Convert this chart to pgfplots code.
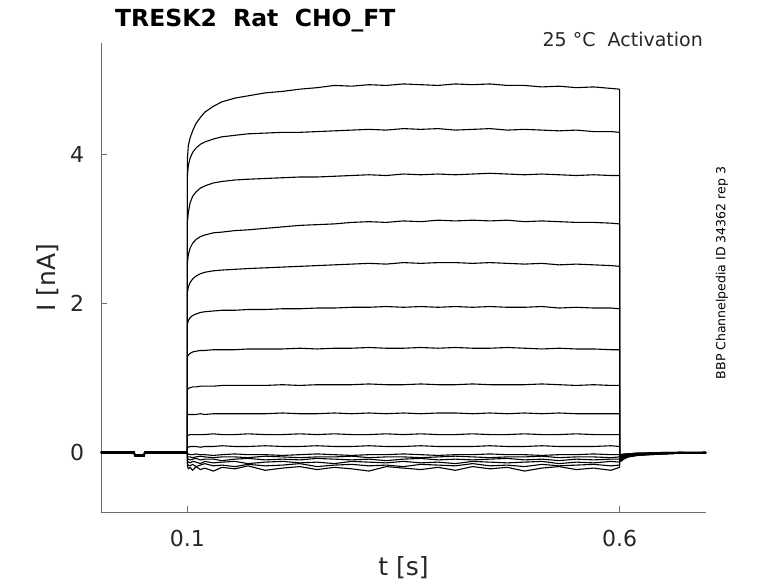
\documentclass[border=0pt]{standalone}
\usepackage{fontspec}
\setmainfont{DejaVu Sans}
\usepackage{pgfplots}
\usepackage{pgfplotstable}
\pgfplotsset{compat=1.18}
\definecolor{axgray}{gray}{0.42}
\definecolor{labgray}{gray}{0.15}
\pgfplotstableread{
t a b c d e f g h i j k l m n o p q
0 0.00 -0.01 0.01 0.00 -0.01 0.00 0.01 0.00 -0.01 0.00 0.01 0.00 -0.01 0.00 0.01 0.00 -0.01
0.02 0.00 -0.01 0.01 0.00 -0.01 0.00 0.01 0.00 -0.01 0.00 0.01 0.00 -0.01 0.00 0.01 0.00 -0.01
0.0385 0.00 -0.01 0.01 0.00 -0.01 0.00 0.01 0.00 -0.01 0.00 0.01 0.00 -0.01 0.00 0.01 0.00 -0.01
0.039 -0.04 -0.05 -0.03 -0.04 -0.05 -0.04 -0.03 -0.04 -0.05 -0.04 -0.03 -0.04 -0.05 -0.04 -0.03 -0.04 -0.05
0.050 -0.04 -0.05 -0.03 -0.04 -0.05 -0.04 -0.03 -0.04 -0.05 -0.04 -0.03 -0.04 -0.05 -0.04 -0.03 -0.04 -0.05
0.0505 0.00 -0.01 0.01 0.00 -0.01 0.00 0.01 0.00 -0.01 0.00 0.01 0.00 -0.01 0.00 0.01 0.00 -0.01
0.07 0.00 -0.01 0.01 0.00 -0.01 0.00 0.01 0.00 -0.01 0.00 0.01 0.00 -0.01 0.00 0.01 0.00 -0.01
0.1 0.00 -0.01 0.01 0.00 -0.01 0.00 0.01 0.00 -0.01 0.00 0.01 0.00 -0.01 0.00 0.01 0.00 -0.01
0.1 3.95 3.72 3.10 2.55 2.15 1.72 1.28 0.84 0.50 0.23 0.07 -0.03 -0.05 -0.08 -0.11 -0.15 -0.18
0.101 4.12 3.85 3.22 2.65 2.22 1.77 1.31 0.86 0.51 0.23 0.07 -0.02 -0.06 -0.09 -0.13 -0.17 -0.22
0.103 4.22 3.95 3.35 2.74 2.28 1.81 1.33 0.87 0.51 0.24 0.08 -0.03 -0.06 -0.10 -0.14 -0.18 -0.20
0.106 4.32 4.03 3.44 2.81 2.33 1.84 1.35 0.88 0.51 0.24 0.08 -0.03 -0.07 -0.09 -0.12 -0.16 -0.24
0.11 4.42 4.09 3.50 2.86 2.37 1.86 1.36 0.88 0.51 0.24 0.08 -0.02 -0.06 -0.08 -0.13 -0.19 -0.19
0.115 4.50 4.14 3.55 2.90 2.40 1.88 1.37 0.89 0.52 0.24 0.07 -0.03 -0.05 -0.10 -0.15 -0.17 -0.23
0.12 4.57 4.17 3.58 2.92 2.42 1.89 1.37 0.89 0.51 0.24 0.08 -0.03 -0.06 -0.09 -0.12 -0.15 -0.21
0.13 4.65 4.21 3.62 2.95 2.44 1.90 1.38 0.89 0.52 0.25 0.08 -0.04 -0.07 -0.09 -0.14 -0.18 -0.25
0.14 4.71 4.24 3.64 2.96 2.45 1.91 1.38 0.90 0.52 0.24 0.09 -0.03 -0.06 -0.11 -0.13 -0.17 -0.20
0.155 4.76 4.26 3.66 2.98 2.46 1.91 1.38 0.90 0.52 0.24 0.08 -0.02 -0.06 -0.09 -0.12 -0.19 -0.22
0.17 4.79 4.28 3.67 2.99 2.47 1.92 1.39 0.90 0.52 0.25 0.08 -0.03 -0.07 -0.08 -0.15 -0.16 -0.18
0.19 4.83 4.29 3.68 3.01 2.48 1.92 1.39 0.90 0.52 0.24 0.09 -0.03 -0.05 -0.10 -0.13 -0.18 -0.24
0.21 4.85 4.30 3.69 3.03 2.49 1.93 1.39 0.91 0.53 0.24 0.08 -0.04 -0.06 -0.09 -0.12 -0.17 -0.21
0.23 4.88 4.30 3.70 3.05 2.50 1.93 1.40 0.90 0.52 0.25 0.08 -0.03 -0.07 -0.10 -0.14 -0.15 -0.19
0.25 4.90 4.31 3.70 3.06 2.51 1.94 1.39 0.91 0.52 0.24 0.09 -0.02 -0.06 -0.08 -0.13 -0.19 -0.23
0.27 4.93 4.32 3.71 3.07 2.52 1.94 1.40 0.91 0.53 0.25 0.08 -0.03 -0.06 -0.09 -0.15 -0.17 -0.20
0.29 4.92 4.33 3.72 3.09 2.53 1.95 1.40 0.91 0.52 0.24 0.08 -0.04 -0.05 -0.10 -0.12 -0.16 -0.22
0.31 4.94 4.34 3.73 3.10 2.54 1.95 1.41 0.92 0.53 0.24 0.09 -0.03 -0.07 -0.09 -0.13 -0.18 -0.25
0.33 4.93 4.33 3.72 3.09 2.53 1.96 1.40 0.91 0.52 0.25 0.08 -0.03 -0.06 -0.11 -0.14 -0.17 -0.19
0.35 4.95 4.35 3.74 3.11 2.55 1.95 1.40 0.91 0.53 0.24 0.08 -0.02 -0.06 -0.09 -0.12 -0.19 -0.21
0.37 4.94 4.34 3.73 3.10 2.54 1.96 1.41 0.92 0.52 0.25 0.09 -0.03 -0.07 -0.08 -0.14 -0.16 -0.23
0.39 4.93 4.35 3.74 3.12 2.55 1.95 1.40 0.91 0.53 0.24 0.08 -0.04 -0.06 -0.10 -0.13 -0.17 -0.20
0.41 4.95 4.33 3.73 3.11 2.55 1.96 1.41 0.91 0.53 0.24 0.08 -0.03 -0.05 -0.09 -0.15 -0.18 -0.24
0.43 4.94 4.34 3.74 3.12 2.54 1.95 1.40 0.92 0.52 0.25 0.08 -0.03 -0.06 -0.10 -0.12 -0.15 -0.19
0.45 4.95 4.35 3.75 3.11 2.55 1.96 1.40 0.91 0.53 0.24 0.09 -0.02 -0.07 -0.09 -0.13 -0.18 -0.22
0.47 4.93 4.33 3.74 3.12 2.54 1.95 1.41 0.91 0.52 0.24 0.08 -0.03 -0.06 -0.08 -0.14 -0.17 -0.20
0.49 4.93 4.34 3.73 3.10 2.53 1.95 1.40 0.91 0.53 0.25 0.08 -0.03 -0.06 -0.10 -0.13 -0.19 -0.25
0.51 4.91 4.33 3.74 3.11 2.54 1.96 1.39 0.92 0.52 0.24 0.09 -0.04 -0.05 -0.09 -0.12 -0.16 -0.21
0.53 4.92 4.32 3.73 3.10 2.52 1.94 1.40 0.91 0.53 0.24 0.08 -0.03 -0.07 -0.11 -0.15 -0.18 -0.19
0.55 4.90 4.33 3.72 3.09 2.53 1.95 1.39 0.90 0.52 0.25 0.08 -0.03 -0.06 -0.09 -0.13 -0.17 -0.23
0.57 4.91 4.31 3.73 3.09 2.52 1.94 1.39 0.91 0.52 0.24 0.08 -0.02 -0.06 -0.10 -0.14 -0.16 -0.21
0.59 4.89 4.31 3.72 3.08 2.51 1.94 1.38 0.90 0.52 0.24 0.09 -0.03 -0.07 -0.09 -0.12 -0.18 -0.24
0.6 4.88 4.30 3.72 3.07 2.50 1.93 1.38 0.90 0.52 0.24 0.08 -0.03 -0.06 -0.09 -0.13 -0.17 -0.20
0.6 -0.13 -0.12 -0.11 -0.10 -0.09 -0.08 -0.07 -0.06 -0.05 -0.04 -0.03 -0.04 -0.05 -0.06 -0.08 -0.10 -0.12
0.605 -0.09 -0.08 -0.07 -0.07 -0.06 -0.05 -0.05 -0.04 -0.03 -0.03 -0.02 -0.03 -0.03 -0.04 -0.05 -0.07 -0.08
0.61 -0.06 -0.05 -0.05 -0.05 -0.04 -0.04 -0.03 -0.03 -0.02 -0.02 -0.02 -0.02 -0.02 -0.03 -0.04 -0.05 -0.06
0.62 -0.04 -0.04 -0.03 -0.03 -0.03 -0.02 -0.02 -0.02 -0.02 -0.01 -0.01 -0.01 -0.02 -0.02 -0.02 -0.03 -0.04
0.635 -0.03 -0.02 -0.02 -0.02 -0.02 -0.02 -0.01 -0.01 -0.01 -0.01 -0.01 -0.01 -0.01 -0.01 -0.02 -0.02 -0.03
0.65 -0.02 -0.02 -0.02 -0.01 -0.01 -0.01 -0.01 -0.01 -0.01 0.00 0.00 -0.01 -0.01 -0.01 -0.01 -0.01 -0.02
0.67 -0.01 -0.01 -0.01 -0.01 -0.01 0.00 -0.01 0.00 0.00 0.00 0.00 0.00 0.00 -0.01 -0.01 -0.01 -0.01
0.7 -0.01 0.00 -0.01 0.00 -0.01 0.00 0.00 -0.01 0.00 -0.01 0.00 0.00 -0.01 0.00 0.00 -0.01 0.00
}\data
\begin{document}
\begin{tikzpicture}
\path[use as bounding box] (-101pt,-71pt) rectangle (677pt,512pt);
\begin{axis}[
  scale only axis, width=605pt, height=469pt,
  xmin=0, xmax=0.7, ymin=-0.8, ymax=5.5,
  axis lines=left,
  axis line style={-, draw=axgray, line width=0.7pt},
  tick align=inside, major tick length=6pt,
  tick style={draw=axgray, line width=0.7pt},
  xtick={0.1,0.6}, ytick={0,2,4},
  xticklabels={0.1,0.6}, yticklabels={0,2,4},
  /pgf/number format/assume math mode=true,
  ticklabel style={font=\fontsize{22}{26}\selectfont, text=labgray},
  xticklabel style={anchor=center, yshift=-26pt},
  yticklabel style={anchor=center, xshift=-24pt},
  xlabel={t [s]}, ylabel={I [nA]},
  label style={font=\fontsize{25}{30}\selectfont, text=labgray},
  xlabel style={at={([yshift=-56pt]axis description cs:0.5,0)}, anchor=center},
  ylabel style={at={([xshift=-53pt]axis description cs:0,0.5)}, anchor=center},
  clip=false,
]
\pgfplotsinvokeforeach{a,b,c,d,e,f,g,h,i,j,k,l,m,n,o,p,q}{
  \addplot[black, line width=1.1pt, line join=round] table[x=t, y=#1]{\data};
}
\end{axis}
\node[anchor=base west, inner sep=0pt, text=black] at (14pt,485pt)
  {\fontsize{23.5}{28}\selectfont\bfseries TRESK2\ \ Rat\ \ CHO\_FT};
\node[anchor=base east, inner sep=0pt, text=labgray] at (602pt,465pt)
  {\fontsize{19}{23}\selectfont 25 °C\ \ Activation};
\node[rotate=90, anchor=center, inner sep=0pt, text=black] at (621pt,239pt)
  {\fontsize{12.5}{15}\selectfont BBP Channelpedia ID 34362 rep 3};
\end{tikzpicture}
\end{document}
